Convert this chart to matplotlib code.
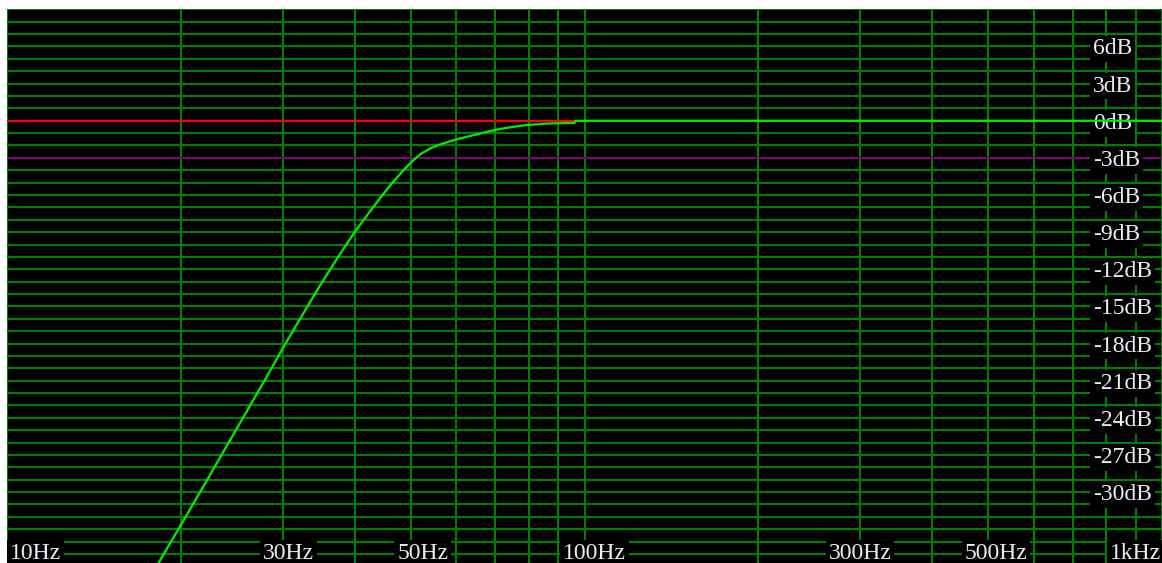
import matplotlib
matplotlib.use("Agg")
import matplotlib.pyplot as plt
import numpy as np
from matplotlib.ticker import FixedLocator, MultipleLocator, NullFormatter

# response (Hz, dB)
freq_hz = [18.1, 18.27, 19.92, 21.72, 23.52, 25.30, 27.76, 30.06, 32.13, 34.79, 37.69,
           40.00, 41.90, 44.19, 46.4, 48.7, 50.5, 52.3, 54.3, 56.5, 58.7, 60.7, 63.5,
           65.9, 68.6, 71.3, 75.1, 79.3, 86.1, 96.1, 96.5, 1000.0]
gain_db = [-36.3, -35.78, -32.8, -29.8, -27.0, -24.45, -21.2, -18.35, -16.05, -13.35, -10.8,
           -9.0, -7.72, -6.3, -5.05, -3.95, -3.2, -2.62, -2.2, -1.88, -1.64, -1.45, -1.22,
           -1.04, -0.84, -0.67, -0.5, -0.35, -0.23, -0.17, 0.0, 0.0]

ref_freq = [10.0, 96.3]
ref_db = [0.0, 0.0]
cut_db = -3.0

db_ticks = [6, 3, 0, -3, -6, -9, -12, -15, -18, -21, -24, -27, -30]
db_labels = [f"{v}dB" for v in db_ticks]
hz_ticks = [10, 30, 50, 100, 300, 500, 1000]
hz_labels = ["10Hz", "30Hz", "50Hz", "100Hz", "300Hz", "500Hz", "1kHz"]

# layout (pixel nudges for the bottom labels, relative to their tick)
hz_nudge_px = [0, 6, 12, 10, 0, 8, 0]

W, H = 1162, 563
GRID = "#008000"
TXT = "#ececf4"
FONT = "Liberation Serif"
FS = 17

fig = plt.figure(figsize=(W / 100, H / 100), dpi=100, facecolor="white")
top_px = 8.6
ax = fig.add_axes([7 / W, 0, 1 - 7 / W, 1 - top_px / H])
ax.set_facecolor("black")
ax.set_xscale("log")
ax.set_xlim(10, 1000)
ax.set_ylim(-35.73, 9.06)

ax.xaxis.set_major_locator(FixedLocator([10, 100, 1000]))
ax.xaxis.set_minor_locator(FixedLocator([k * d for d in (10, 100) for k in range(2, 10)]))
ax.yaxis.set_major_locator(MultipleLocator(1))
for axis in (ax.xaxis, ax.yaxis):
    axis.set_major_formatter(NullFormatter())
    axis.set_minor_formatter(NullFormatter())
ax.tick_params(which="both", length=0)
ax.grid(which="both", color=GRID, lw=1.5, zorder=1)
ax.set_axisbelow(True)
for s in ax.spines.values():
    s.set_visible(False)

ax.axhline(cut_db, color="#800080", lw=1.5, zorder=2)
ax.plot(ref_freq, ref_db, color="#ff0000", lw=1.6, zorder=2)

box = dict(boxstyle="square,pad=0.12", fc="black", ec="none")
xl = (1093 - 7) / (W - 7)
for v, lab in zip(db_ticks, db_labels):
    ax.text(xl, v, lab, transform=ax.get_yaxis_transform(), ha="left", va="center_baseline",
            family=FONT, fontsize=FS, color=TXT, bbox=box, zorder=3)

ybot = -34.75
for f, lab, dx in zip(hz_ticks, hz_labels, hz_nudge_px):
    xpx = 7 + (W - 7) * np.log10(f / 10) / 2 + dx
    ha = "center"
    if f == hz_ticks[0]:
        xpx, ha = 10, "left"
    elif f == hz_ticks[-1]:
        xpx, ha = W - 1, "right"
    ax.text((xpx - 7) / (W - 7), ybot, lab, transform=ax.get_yaxis_transform(), ha=ha,
            va="center_baseline", family=FONT, fontsize=FS, color=TXT, bbox=box, zorder=3)

ax.plot(freq_hz, gain_db, color="#00ee00", lw=1.6, zorder=4)

fig.savefig("out.png", dpi=100, facecolor="white")
